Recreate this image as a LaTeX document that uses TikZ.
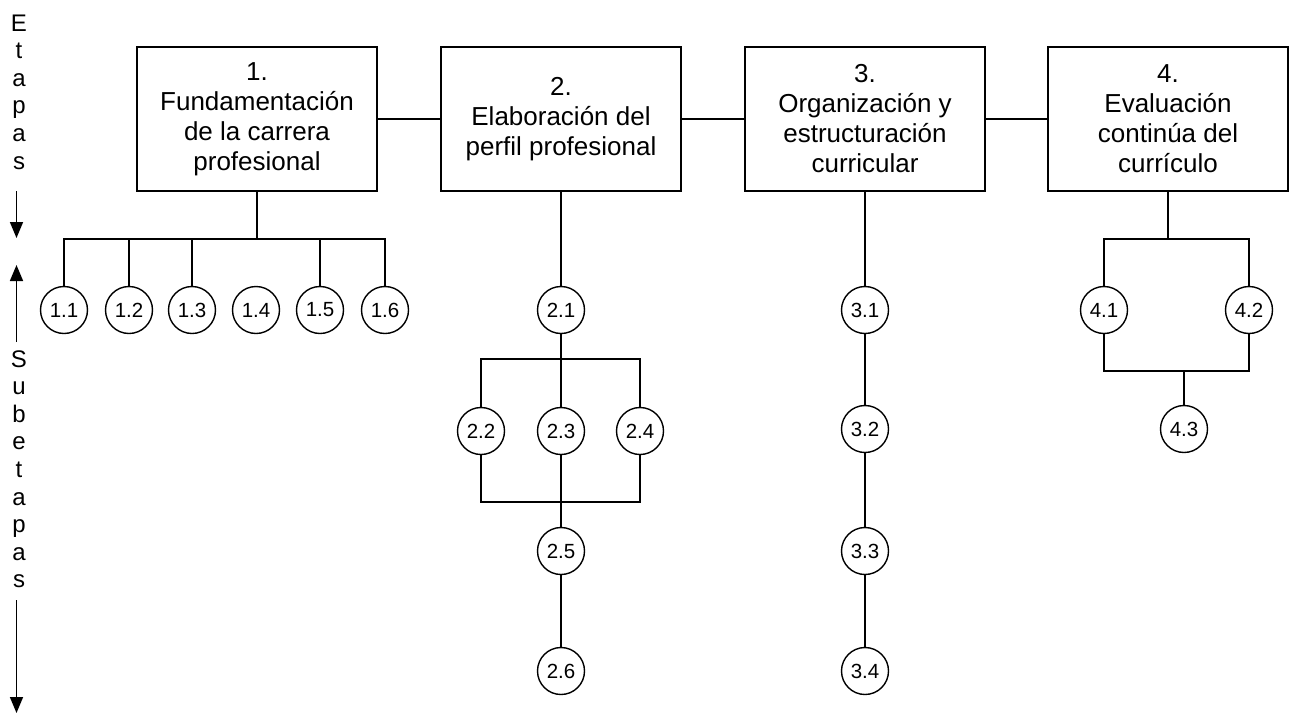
\documentclass[tikz,border=0pt]{standalone}
\usepackage{fontspec}
\setmainfont{Liberation Sans}
\usetikzlibrary{arrows.meta}
\begin{document}
\begin{tikzpicture}[x=1pt,y=-1pt,
  ln/.style={line width=1.6pt},
  stage/.style={draw,line width=1.6pt,rectangle,minimum width=240pt,minimum height=144pt,align=center,inner sep=2pt,font=\fontsize{26}{30}\selectfont},
  sub/.style={draw,line width=1.4pt,circle,minimum size=47pt,inner sep=0pt,font=\fontsize{20.5}{22}\selectfont},
  side/.style={anchor=base,inner sep=0pt,font=\fontsize{24}{27}\selectfont},
  arr/.style={line width=1.6pt,-{Triangle[width=13pt,length=16pt]}}]
\fill[white] (0,0) rectangle (1295,715);
\useasboundingbox (0,0) rectangle (1295,715);

% side labels
\foreach \ch [count=\i] in {E,t,a,p,a,s}
  \node[side] (e\i) at (19,{31+27.6*(\i-1)}) {\ch};
\foreach \ch [count=\i] in {S,u,b,e,t,a,p,a,s}
  \node[side] (s\i) at (19,{367+27.6*(\i-1)}) {\ch};
\coordinate (ea) at (16.5,191);
\coordinate (eb) at (16.5,238);
\coordinate (sa) at (16.5,342);
\coordinate (sb) at (16.5,265);
\coordinate (sc) at (16.5,600);
\coordinate (sd) at (16.5,713);
\draw[arr] (ea) -- (eb);
\draw[arr] (sa) -- (sb);
\draw[arr] (sc) -- (sd);

% stages
\node[stage] (b1) at (257,119) {1.\\Fundamentación\\de la carrera\\profesional};
\node[stage] (b2) at (561,119) {2.\\Elaboración del\\perfil profesional};
\node[stage] (b3) at (865,119) {3.\\Organización y\\estructuración\\curricular};
\node[stage] (b4) at (1168,119) {4.\\Evaluación\\continúa del\\currículo};
\draw[ln] (b1) -- (b2);
\draw[ln] (b2) -- (b3);
\draw[ln] (b3) -- (b4);

% column 1
\foreach \x [count=\i] in {64,129,192,256,320,385}
  \node[sub] (c1\i) at (\x,310) {1.\i};
\coordinate (bus1) at (257,239);
\draw[ln] (b1.south) -- (bus1);
\draw[ln] (c11.north) |- (bus1) -| (c16.north);
\draw[ln] (c12.north) -- (c12.north |- bus1);
\draw[ln] (c13.north) -- (c13.north |- bus1);
\draw[ln] (c15.north) -- (c15.north |- bus1);

% column 2
\node[sub] (c21) at (561,310) {2.1};
\node[sub] (c22) at (481,431) {2.2};
\node[sub] (c23) at (561,431) {2.3};
\node[sub] (c24) at (640,431) {2.4};
\node[sub] (c25) at (561,551) {2.5};
\node[sub] (c26) at (561,671) {2.6};
\coordinate (bus2a) at (561,359);
\coordinate (bus2b) at (561,502);
\draw[ln] (b2) -- (c21);
\draw[ln] (c21) -- (c23);
\draw[ln] (c23) -- (c25);
\draw[ln] (c25) -- (c26);
\draw[ln] (c22.north) |- (bus2a) -| (c24.north);
\draw[ln] (c22.south) |- (bus2b) -| (c24.south);

% column 3
\node[sub] (c31) at (865,310) {3.1};
\node[sub] (c32) at (865,429) {3.2};
\node[sub] (c33) at (865,551) {3.3};
\node[sub] (c34) at (865,671) {3.4};
\draw[ln] (b3) -- (c31);
\draw[ln] (c31) -- (c32);
\draw[ln] (c32) -- (c33);
\draw[ln] (c33) -- (c34);

% column 4
\node[sub] (c41) at (1104,310) {4.1};
\node[sub] (c42) at (1249,310) {4.2};
\node[sub] (c43) at (1184,429) {4.3};
\coordinate (bus4a) at (1168,239);
\coordinate (bus4b) at (1184,371);
\draw[ln] (b4.south) -- (bus4a);
\draw[ln] (c41.north) |- (bus4a) -| (c42.north);
\draw[ln] (c41.south) |- (bus4b) -| (c42.south);
\draw[ln] (bus4b) -- (c43.north);
\end{tikzpicture}
\end{document}
